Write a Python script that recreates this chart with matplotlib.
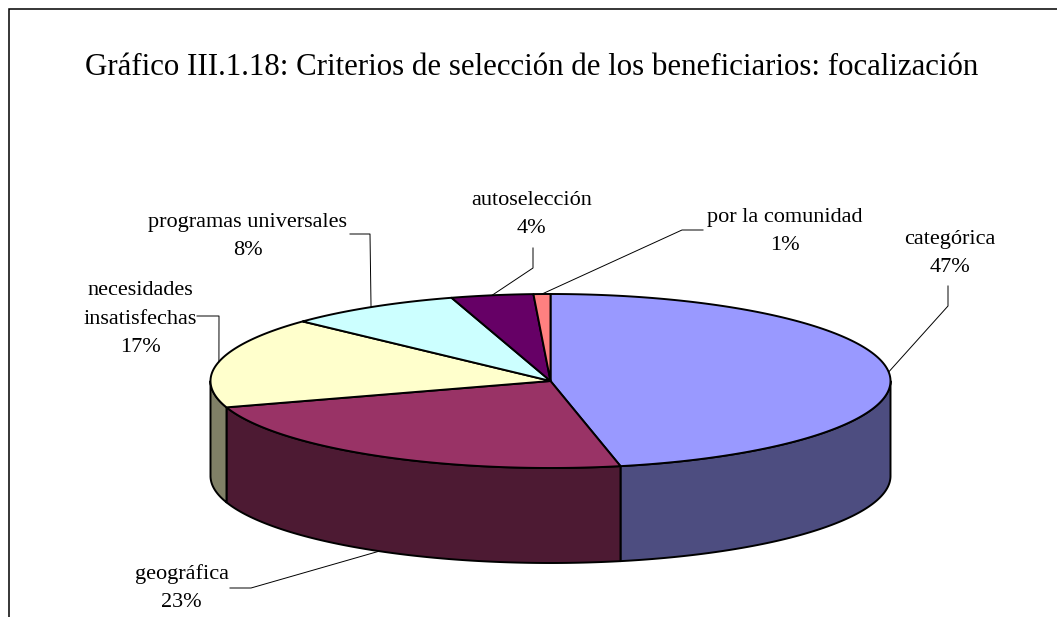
import numpy as np
import matplotlib
matplotlib.use('Agg')
import matplotlib.pyplot as plt

categorias = ['categórica', 'geográfica', 'necesidades\ninsatisfechas',
              'programas universales', 'autoselección', 'por la comunidad']
# labels show these rounded; slice edges in the picture give the decimals
valores = [46.7, 23.4, 16.9, 8.3, 3.9, 0.8]
colores = ['#9999FF', '#993366', '#FFFFCC', '#CCFFFF', '#660066', '#FF8080']
colores_lado = ['#4D4D80', '#4D1A33', '#808066', '#668080', '#330033', '#804040']
titulo = 'Gráfico III.1.18: Criterios de selección de los beneficiarios: focalización'

# geometry of the pie, in pixels
CX, CY = 550.5, 381
RX, RY = 340, 87
DEPTH = 95

plt.rcParams['font.family'] = ['Liberation Serif', 'DejaVu Serif']

fig = plt.figure(figsize=(10.57, 6.17), dpi=100, facecolor='white')
ax = fig.add_axes([0, 0, 1, 1])
ax.set_xlim(0, 1057)
ax.set_ylim(617, 0)
ax.axis('off')


def rim(angle, dy=0):
    # angle in degrees, clockwise from the top of the pie
    a = np.radians(angle)
    return CX + RX * np.sin(a), CY - RY * np.cos(a) + dy


# frame, open on the right and at the bottom
ax.plot([9, 9, 1057], [617, 9, 9], color='black', lw=1.1, solid_joinstyle='miter')

total = sum(valores)
bordes = np.cumsum([0] + valores) / total * 360

# sides first
for i in range(len(valores)):
    ini = max(bordes[i], 90)
    fin = min(bordes[i + 1], 270)
    if ini >= fin:
        continue
    t = np.linspace(ini, fin, 120)
    x, y = rim(t)
    x2, y2 = rim(t[::-1], DEPTH)
    ax.fill(np.r_[x, x2], np.r_[y, y2], facecolor=colores_lado[i],
            edgecolor='black', lw=1.4, joinstyle='round')

# then the top
for i in range(len(valores)):
    t = np.linspace(bordes[i], bordes[i + 1], 200)
    x, y = rim(t)
    ax.fill(np.r_[CX, x], np.r_[CY, y], facecolor=colores[i],
            edgecolor='black', lw=1.4, joinstyle='round')

ax.text(85, 75, titulo, fontsize=22.2, color='black', ha='left', va='baseline')

# label centre and last line baseline, plus the elbow of each leader
etiquetas = [
    (950, 272, [(948, 286), (948, 306)], 0),
    (181.5, 607, [(230, 588), (251, 588)], DEPTH),
    (140, 352, [(197, 316), (219, 316)], 0),
    (247.5, 255, [(350, 234), (370, 234)], 0),
    (531.5, 233, [(533, 248), (533, 268)], 0),
    (785, 250, [(703, 230), (682, 230)], 0),
]

for i, (xt, yt, codo, dy) in enumerate(etiquetas):
    medio = (bordes[i] + bordes[i + 1]) / 2
    xa, ya = rim(medio, dy)
    xs = [p[0] for p in codo] + [xa]
    ys = [p[1] for p in codo] + [ya]
    ax.plot(xs, ys, color='black', lw=0.7, zorder=1.5)
    ax.text(xt, yt, f'{categorias[i]}\n{valores[i]:.0f}%', fontsize=16, ha='center',
            va='baseline', multialignment='center', linespacing=1.67, color='black')

fig.savefig('out.png', dpi=100, facecolor='white')
